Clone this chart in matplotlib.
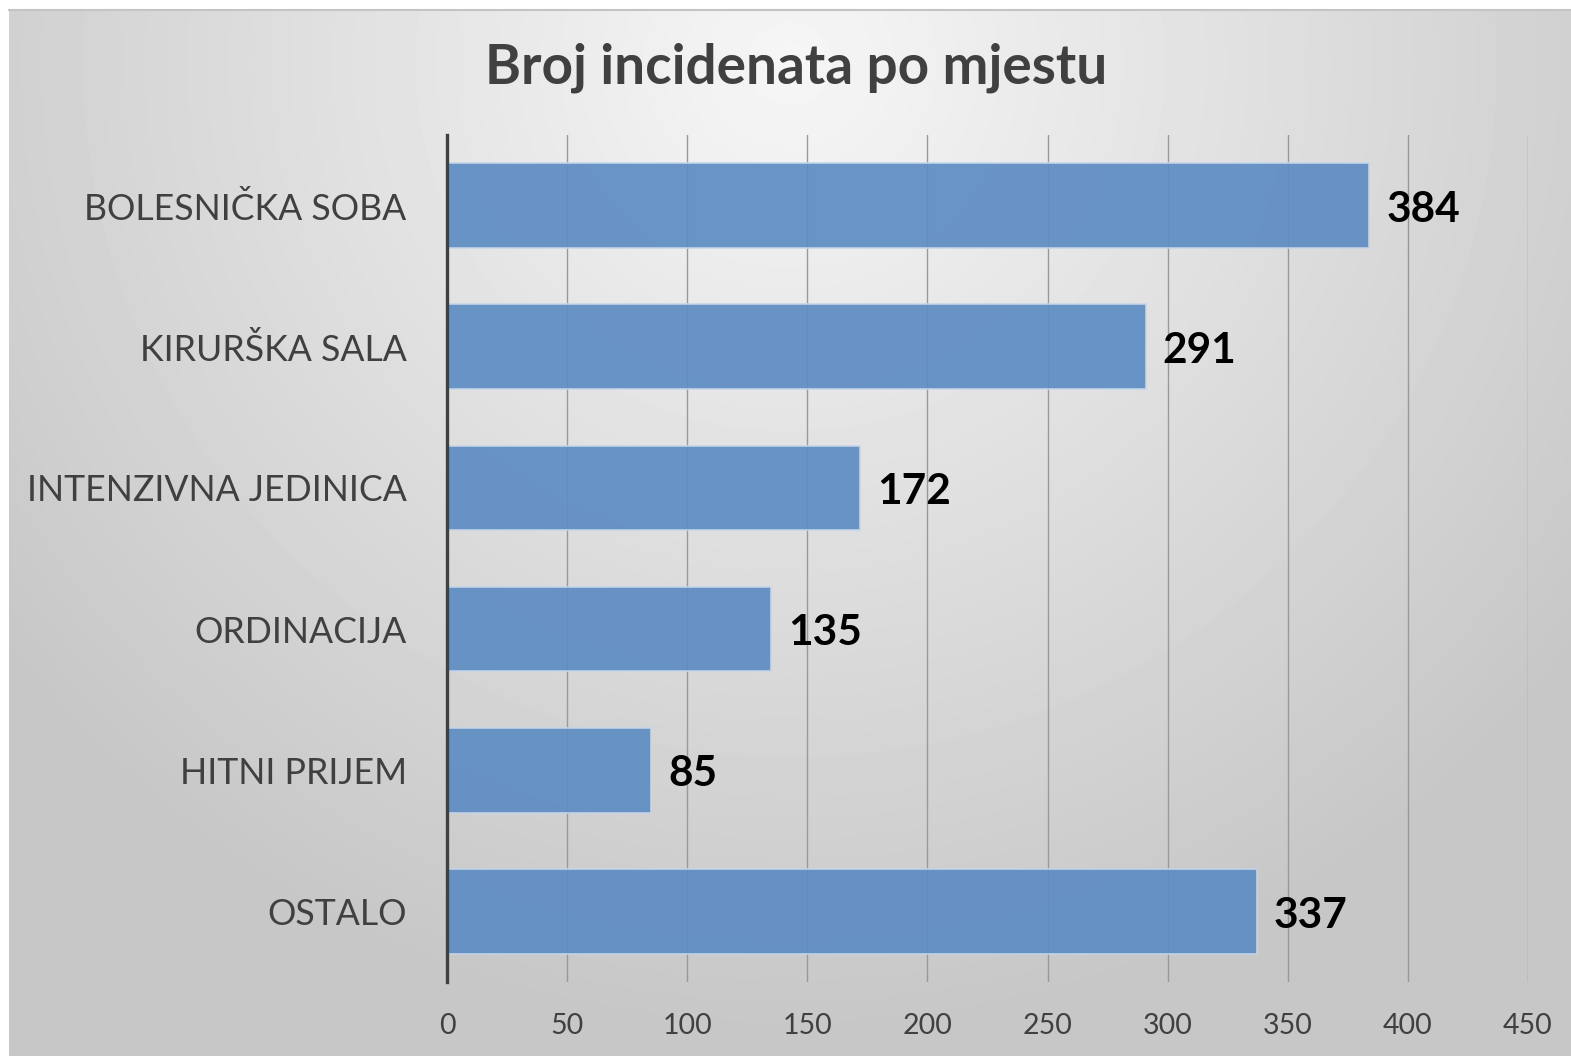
import numpy as np
import matplotlib.pyplot as plt

categories = ['BOLESNIČKA SOBA', 'KIRURŠKA SALA', 'INTENZIVNA JEDINICA',
              'ORDINACIJA', 'HITNI PRIJEM', 'OSTALO']
values = [384, 291, 172, 135, 85, 337]
x_ticks = [0, 50, 100, 150, 200, 250, 300, 350, 400, 450]

plt.rcParams['font.family'] = ['Lato', 'DejaVu Sans']

W, H = 1571, 1056
fig = plt.figure(figsize=(W / 100, H / 100), dpi=100)
fig.patch.set_facecolor('white')

# gradient background panel (radial, light near the top centre)
bg = fig.add_axes([9 / W, 0, 1 - 9 / W, 1 - 10 / H], zorder=-10)
yy, xx = np.mgrid[0:1:300j, 0:1:500j]
r = np.sqrt(((xx - 0.5) / 0.75) ** 2 + ((yy - 0.05) / 1.1) ** 2)
shade = np.clip(0.965 - 0.22 * r, 0.78, 0.97)
bg.imshow(shade, cmap='gray', vmin=0, vmax=1, aspect='auto',
          extent=[0, 1, 1, 0], interpolation='bilinear')
bg.set_xticks([])
bg.set_yticks([])
for side in ['left', 'right', 'bottom']:
    bg.spines[side].set_visible(False)
bg.spines['top'].set_color('#c4c4c4')
bg.spines['top'].set_linewidth(1.5)

ax = fig.add_axes([447 / W, 1 - 982 / H, (1528 - 447) / W, (982 - 135) / H])
ax.patch.set_alpha(0)

y = np.arange(len(categories))
ax.barh(y, values, height=0.6, color='#5f8dc3', alpha=0.93,
        edgecolor='#c6d6ea', linewidth=1.2, zorder=2)
for yi, v in zip(y, values):
    ax.text(v + 7, yi + 0.03, str(v), va='center', ha='left',
            fontsize=30.5, fontweight='bold', color='black')

ax.set_xlim(0, 450)
ax.set_ylim(len(categories) - 0.5, -0.5)
ax.set_xticks(x_ticks)
ax.set_yticks(y)
ax.set_yticklabels(categories, fontsize=25.7, color='#404040')
ax.tick_params(axis='y', length=0, pad=29)
ax.tick_params(axis='x', length=0, pad=22, labelsize=20.5, labelcolor='#404040')
ax.grid(axis='x', color='#999999', linewidth=1, zorder=0)
ax.set_axisbelow(True)
for side in ['top', 'right', 'bottom']:
    ax.spines[side].set_visible(False)
ax.spines['left'].set_color('#404040')
ax.spines['left'].set_linewidth(2.4)

fig.text(796 / W, 1 - 68 / H, 'Broj incidenata po mjestu', ha='center', va='center',
         fontsize=39.5, fontweight='bold', color='#404040')

fig.savefig('out.png', dpi=100)
